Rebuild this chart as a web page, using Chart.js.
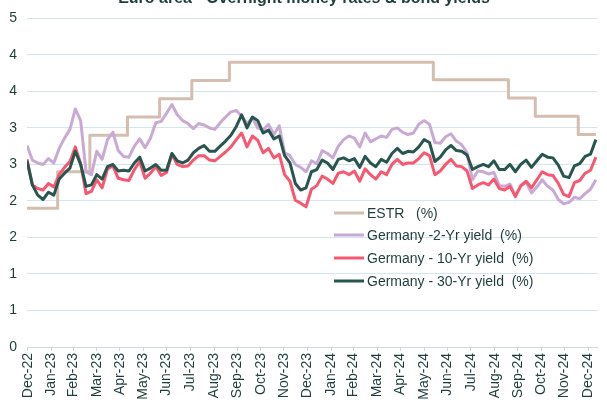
<!DOCTYPE html>
<html>
<head>
<meta charset="utf-8">
<script src="https://cdn.jsdelivr.net/npm/chart.js@4.4.1/dist/chart.umd.min.js"></script>
<style>
  html, body { margin: 0; padding: 0; background: #fff; }
  #wrap { width: 607px; height: 406px; position: relative; }
</style>
</head>
<body>
<div id="wrap"><canvas id="chart"></canvas></div>
<script>
// days counted from 31 Dec 2022; one yield reading per week (Fridays, 30 Dec 2022 .. 10 Jan 2025)
const firstFriday = -1;

const estrDays = [-1, 39, 81, 130, 172, 214, 263, 529, 627, 662, 718, 741];
const estr = [1.90, 2.40, 2.90, 3.15, 3.40, 3.65, 3.90, 3.66, 3.41, 3.16, 2.91, 2.91];

const de2y = [
  2.76, 2.56, 2.52, 2.50, 2.58, 2.52, 2.72, 2.86, 2.98, 3.26, 3.10, 2.40, 2.36, 2.68, 2.57, 2.84,
  2.94, 2.69, 2.61, 2.60, 2.75, 2.85, 2.73, 2.86, 3.07, 3.09, 3.20, 3.32, 3.18, 3.10, 3.06, 2.99,
  3.06, 3.04, 3.00, 2.98, 3.07, 3.15, 3.22, 3.24, 3.16, 3.06, 3.14, 3.00, 2.97, 3.05, 2.91, 3.03,
  2.66, 2.62, 2.50, 2.46, 2.40,
  2.55, 2.51, 2.69, 2.65, 2.59, 2.75, 2.84, 2.89, 2.86, 2.74, 2.93, 2.81, 2.85, 2.89, 2.87, 2.98,
  3.00, 2.94, 2.91, 2.93, 3.05, 3.10, 3.05, 2.80, 2.79, 2.88, 2.92, 2.82, 2.77, 2.66, 2.29, 2.41,
  2.40, 2.37, 2.39, 2.21, 2.20, 2.23, 2.07, 2.20, 2.26, 2.11, 2.19, 2.29, 2.20, 2.15, 2.02, 1.96,
  1.98, 2.05, 2.03, 2.10, 2.16, 2.29
];

const de10y = [
  2.57, 2.22, 2.17, 2.15, 2.24, 2.19, 2.36, 2.46, 2.54, 2.74, 2.51, 2.10, 2.13, 2.29, 2.18, 2.44,
  2.48, 2.31, 2.29, 2.28, 2.43, 2.54, 2.31, 2.38, 2.47, 2.35, 2.39, 2.64, 2.50, 2.47, 2.48, 2.56,
  2.62, 2.62, 2.56, 2.55, 2.61, 2.67, 2.74, 2.84, 2.93, 2.74, 2.89, 2.83, 2.66, 2.72, 2.59, 2.64,
  2.36, 2.27, 2.01, 1.97, 1.92,
  2.16, 2.21, 2.34, 2.30, 2.24, 2.38, 2.40, 2.36, 2.41, 2.27, 2.44, 2.36, 2.30, 2.40, 2.36, 2.50,
  2.57, 2.50, 2.52, 2.52, 2.58, 2.66, 2.62, 2.36, 2.41, 2.50, 2.57, 2.48, 2.47, 2.41, 2.17, 2.22,
  2.25, 2.22, 2.30, 2.17, 2.15, 2.20, 2.06, 2.21, 2.27, 2.18, 2.29, 2.40, 2.36, 2.35, 2.24, 2.09,
  2.06, 2.25, 2.28, 2.38, 2.42, 2.60
];

const de30y = [
  2.55, 2.22, 2.08, 2.02, 2.12, 2.08, 2.30, 2.38, 2.45, 2.68, 2.50, 2.20, 2.22, 2.36, 2.30, 2.47,
  2.50, 2.41, 2.42, 2.41, 2.52, 2.60, 2.41, 2.45, 2.50, 2.42, 2.42, 2.65, 2.55, 2.52, 2.56, 2.66,
  2.72, 2.76, 2.68, 2.68, 2.75, 2.82, 2.90, 3.02, 3.18, 3.00, 3.15, 3.10, 2.93, 2.97, 2.85, 2.89,
  2.62, 2.52, 2.24, 2.15, 2.18,
  2.40, 2.43, 2.56, 2.52, 2.43, 2.57, 2.59, 2.55, 2.58, 2.46, 2.61, 2.52, 2.47, 2.57, 2.53, 2.65,
  2.72, 2.65, 2.68, 2.67, 2.74, 2.84, 2.80, 2.54, 2.60, 2.70, 2.76, 2.69, 2.68, 2.63, 2.43, 2.47,
  2.50, 2.47, 2.55, 2.43, 2.43, 2.50, 2.40, 2.50, 2.56, 2.46, 2.55, 2.64, 2.60, 2.59, 2.49, 2.34,
  2.32, 2.48, 2.51, 2.61, 2.64, 2.84
];

// month-end tick positions and their labels
const monthEnds = [0, 31, 59, 90, 120, 151, 181, 212, 243, 273, 304, 334, 365,
  396, 425, 456, 486, 517, 547, 578, 609, 639, 670, 700, 731];
const monthLabels = ['Dec-22', 'Jan-23', 'Feb-23', 'Mar-23', 'Apr-23', 'May-23', 'Jun-23',
  'Jul-23', 'Aug-23', 'Sep-23', 'Oct-23', 'Nov-23', 'Dec-23', 'Jan-24', 'Feb-24', 'Mar-24',
  'Apr-24', 'May-24', 'Jun-24', 'Jul-24', 'Aug-24', 'Sep-24', 'Oct-24', 'Nov-24', 'Dec-24'];

const seriesLabels = ['ESTR   (%)', 'Germany -2-Yr yield  (%)', 'Germany - 10-Yr yield  (%)', 'Germany - 30-Yr yield  (%)'];
const colors = ['#D3BEAF', '#C8AAD4', '#F75870', '#28554E'];
const textColor = '#1F3D3C';

const weekly = (vals) => vals.map((v, i) => ({ x: firstFriday + i * 7, y: v }));

const titlePlugin = {
    id: 'cutTitle',
    afterDraw(chart) {
        const ctx = chart.ctx;
        ctx.save();
        ctx.font = 'bold 16px "Liberation Sans", Arial, sans-serif';
        ctx.fillStyle = textColor;
        ctx.textAlign = 'center';
        ctx.textBaseline = 'alphabetic';
        ctx.fillText('Euro area - Overnight money rates & bond yields', 304, 3);
        ctx.restore();
    }
};

const legendPlugin = {
    id: 'insideLegend',
    afterDatasetsDraw(chart) {
        const ctx = chart.ctx;
        const rows = [213, 235, 258, 281];
        ctx.save();
        ctx.font = '14px "Liberation Sans", Arial, sans-serif';
        ctx.textBaseline = 'middle';
        chart.data.datasets.forEach((ds, i) => {
            const y = rows[i];
            ctx.strokeStyle = ds.borderColor;
            ctx.lineWidth = 3;
            ctx.beginPath();
            ctx.moveTo(334, y);
            ctx.lineTo(364, y);
            ctx.stroke();
            ctx.fillStyle = textColor;
            ctx.fillText(ds.label, 367, y + 1);
        });
        ctx.restore();
    }
};

const ctx = document.getElementById('chart').getContext('2d');
new Chart(ctx, {
    type: 'line',
    data: {
        datasets: [{
            label: seriesLabels[0],
            data: estr.map((v, i) => ({ x: estrDays[i], y: v })),
            borderColor: colors[0],
            stepped: 'before',
            order: 4
        }, {
            label: seriesLabels[1],
            data: weekly(de2y),
            borderColor: colors[1],
            order: 3
        }, {
            label: seriesLabels[2],
            data: weekly(de10y),
            borderColor: colors[2],
            order: 2
        }, {
            label: seriesLabels[3],
            data: weekly(de30y),
            borderColor: colors[3],
            order: 1
        }]
    },
    options: {
        responsive: true,
        maintainAspectRatio: false,
        animation: false,
        layout: { padding: { top: 13, right: 0, left: 0, bottom: 0 } },
        elements: {
            line: { borderWidth: 3, tension: 0, borderJoinStyle: 'round' },
            point: { radius: 0 }
        },
        scales: {
            x: {
                type: 'linear',
                min: -1,
                max: 743,
                afterBuildTicks(scale) {
                    scale.ticks = monthEnds.map(v => ({ value: v }));
                },
                afterFit(scale) { scale.height = 59; },
                ticks: {
                    autoSkip: false,
                    maxRotation: 90,
                    minRotation: 90,
                    padding: 2,
                    color: textColor,
                    font: { family: '"Liberation Sans", Arial, sans-serif', size: 14 },
                    callback: (value, index) => monthLabels[index]
                },
                grid: { drawOnChartArea: false, drawTicks: true, tickLength: 4, color: '#C9DCE5' },
                border: { display: true, color: '#C9DCE5' }
            },
            y: {
                min: 0,
                max: 4.5,
                afterFit(scale) { scale.width = 27; },
                ticks: {
                    stepSize: 0.5,
                    padding: 10,
                    color: textColor,
                    font: { family: '"Liberation Sans", Arial, sans-serif', size: 14 },
                    callback: (v) => Math.round(v)
                },
                grid: { color: '#D3E5ED', drawTicks: false },
                border: { display: false }
            }
        },
        plugins: {
            legend: { display: false },
            tooltip: { enabled: false }
        }
    },
    plugins: [titlePlugin, legendPlugin]
});
</script>
</body>
</html>
